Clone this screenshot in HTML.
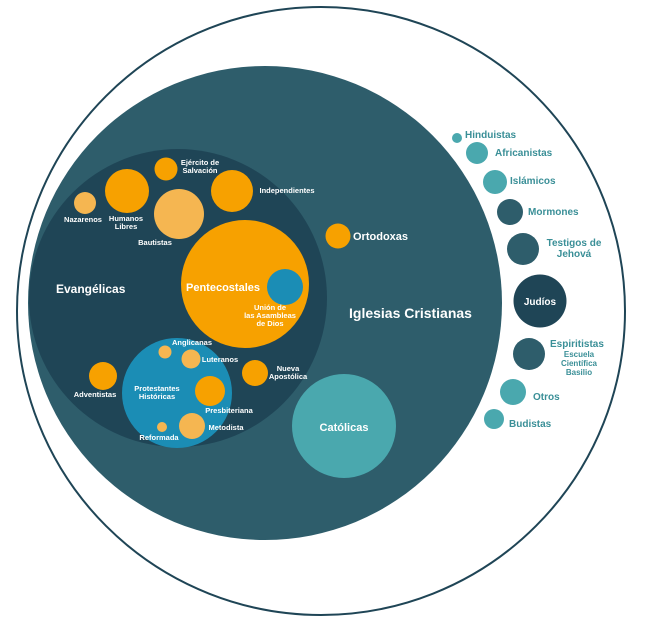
<!DOCTYPE html>
<html><head><meta charset="utf-8"><style>
html,body{margin:0;padding:0;background:#fff;}
svg{display:block;font-family:"Liberation Sans",sans-serif;font-weight:bold;}
</style></head><body>
<svg width="657" height="624" viewBox="0 0 657 624" xmlns="http://www.w3.org/2000/svg">
<circle cx="321" cy="311" r="304" fill="#fff" stroke="#1f4556" stroke-width="2"/>
<circle cx="265" cy="303" r="237" fill="#2e5d6b"/>
<circle cx="178" cy="298" r="149" fill="#1f4556"/>
<circle cx="245" cy="284" r="64" fill="#f7a100"/>
<circle cx="285" cy="287" r="18" fill="#1b8db5"/>
<circle cx="177" cy="393" r="55" fill="#1b8db5"/>
<circle cx="179" cy="214" r="25" fill="#f5b651"/>
<circle cx="127" cy="191" r="22" fill="#f7a100"/>
<circle cx="85" cy="203" r="11" fill="#f5b651"/>
<circle cx="166" cy="169" r="11.5" fill="#f7a100"/>
<circle cx="232" cy="191" r="21" fill="#f7a100"/>
<circle cx="103" cy="376" r="14" fill="#f7a100"/>
<circle cx="255" cy="373" r="13" fill="#f7a100"/>
<circle cx="165" cy="352" r="6.5" fill="#f5b651"/>
<circle cx="191" cy="359" r="9.5" fill="#f5b651"/>
<circle cx="210" cy="391" r="15" fill="#f7a100"/>
<circle cx="192" cy="426" r="13" fill="#f5b651"/>
<circle cx="162" cy="427" r="5" fill="#f5b651"/>
<circle cx="338" cy="236" r="12.5" fill="#f7a100"/>
<circle cx="344" cy="426" r="52" fill="#4aa8ae"/>
<circle cx="457" cy="138" r="5" fill="#4aa8ae"/>
<circle cx="477" cy="153" r="11" fill="#4aa8ae"/>
<circle cx="495" cy="182" r="12" fill="#4aa8ae"/>
<circle cx="510" cy="212" r="13" fill="#2e5d6b"/>
<circle cx="523" cy="249" r="16" fill="#2e5d6b"/>
<circle cx="540" cy="301" r="26.5" fill="#1f4556"/>
<circle cx="529" cy="354" r="16" fill="#2e5d6b"/>
<circle cx="513" cy="392" r="13" fill="#4aa8ae"/>
<circle cx="494" cy="419" r="10" fill="#4aa8ae"/>
<g fill="#fff">
<text x="349" y="318" font-size="14">Iglesias Cristianas</text>
<text x="56" y="293" font-size="12">Evangélicas</text>
<text x="186" y="291" font-size="11">Pentecostales</text>
<text x="353" y="240" font-size="11">Ortodoxas</text>
<text x="344" y="431" font-size="11" text-anchor="middle">Católicas</text>
<text x="540" y="305" font-size="10" text-anchor="middle">Judíos</text>
<g font-size="7.5" text-anchor="middle">
<text x="200" y="165">Ejército de</text><text x="200" y="173">Salvación</text>
<text x="287" y="193">Independientes</text>
<text x="83" y="222">Nazarenos</text>
<text x="126" y="221">Humanos</text><text x="126" y="229">Libres</text>
<text x="155" y="245">Bautistas</text>
<text x="270" y="310">Unión de</text><text x="270" y="318">las Asambleas</text><text x="270" y="326">de Dios</text>
<text x="192" y="345">Anglicanas</text>
<text x="220" y="362">Luteranos</text>
<text x="288" y="371">Nueva</text><text x="288" y="379">Apostólica</text>
<text x="95" y="397">Adventistas</text>
<text x="157" y="391">Protestantes</text><text x="157" y="399">Históricas</text>
<text x="229" y="413">Presbiteriana</text>
<text x="226" y="430">Metodista</text>
<text x="159" y="440">Reformada</text>
</g>
</g>
<g fill="#3a8f97" font-size="10">
<text x="465" y="138">Hinduistas</text>
<text x="495" y="156">Africanistas</text>
<text x="510" y="184">Islámicos</text>
<text x="528" y="215">Mormones</text>
<text x="574" y="246" text-anchor="middle">Testigos de</text>
<text x="574" y="257" text-anchor="middle">Jehová</text>
<text x="550" y="347">Espiritistas</text>
<text x="579" y="357" font-size="8" text-anchor="middle">Escuela</text>
<text x="579" y="366" font-size="8" text-anchor="middle">Científica</text>
<text x="579" y="375" font-size="8" text-anchor="middle">Basilio</text>
<text x="533" y="400">Otros</text>
<text x="509" y="427">Budistas</text>
</g>
</svg>
</body></html>
